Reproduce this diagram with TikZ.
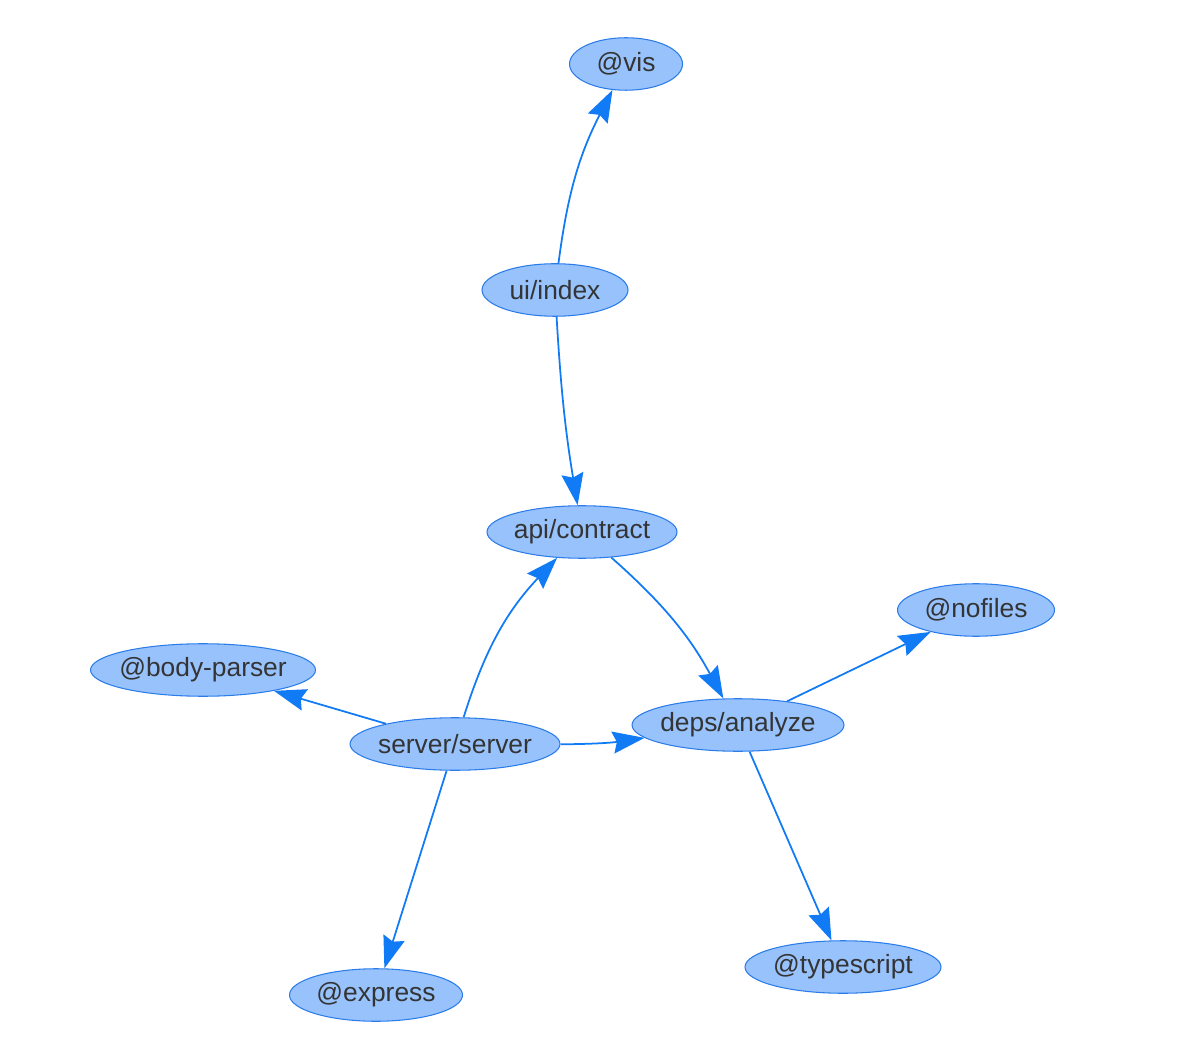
\documentclass[tikz,border=0pt]{standalone}
\usepackage{fontspec}
\setmainfont{Liberation Sans}
\usetikzlibrary{arrows.meta,positioning,shapes.geometric}
\definecolor{modulefill}{RGB}{151,194,252}
\definecolor{moduleborder}{RGB}{43,124,233}
\definecolor{depblue}{RGB}{17,122,245}
\definecolor{labelgray}{RGB}{52,52,52}
\tikzset{module/.style={ellipse,draw=moduleborder,fill=modulefill,line width=0.6pt,
    inner xsep=-0.25cm,inner ysep=-0.1cm,minimum height=1.05cm,
    text=labelgray,font=\fontsize{15}{18}\selectfont},
  depend/.style={draw=depblue,line width=1pt,-{Stealth[length=0.64cm,width=0.44cm,inset=0.08cm]}}}

\begin{document}
\begin{tikzpicture}

\useasboundingbox (0,0) rectangle (24,21.04);

\node[module,minimum width=2.26cm] (vis) at (12.52,19.76) {@vis};
\node[module,minimum width=2.92cm] (index) at (11.10,15.24) {ui/index};
\node[module,minimum width=3.8cm] (contract) at (11.64,10.40) {api/contract};
\node[module,minimum width=3.14cm] (nofiles) at (19.52,8.84) {@nofiles};
\node[module,minimum width=4.5cm] (bodyparser) at (4.06,7.64) {@body-parser};
\node[module,minimum width=4.2cm] (server) at (9.10,6.16) {server/server};
\node[module,minimum width=4.24cm] (analyze) at (14.76,6.54) {deps/analyze};
\node[module,minimum width=3.92cm] (typescript) at (16.86,1.70) {@typescript};
\node[module,minimum width=3.46cm] (express) at (7.52,1.14) {@express};

\draw[depend] (index) to[bend left=10] (vis);
\draw[depend] (index) to[bend right=3] (contract);
\draw[depend] (contract) to[bend left=10] (analyze);
\draw[depend] (server) to[bend left=13] (contract);
\draw[depend] (server) -- (bodyparser);
\draw[depend] (server) to[bend right=4] (analyze);
\draw[depend] (analyze) -- (nofiles);
\draw[depend] (analyze) -- (typescript);
\draw[depend] (server) -- (express);

\end{tikzpicture}
\end{document}
